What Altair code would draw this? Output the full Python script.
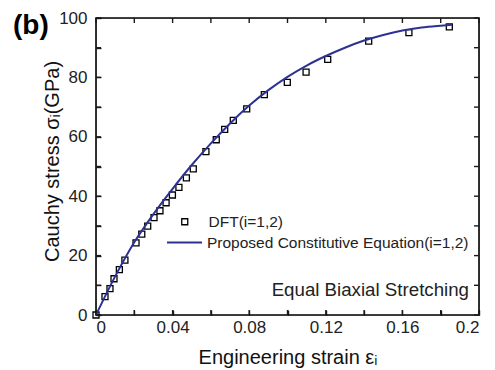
import altair as alt
import pandas as pd

# ---- data ----
dft_strain = [0.0, 0.0047, 0.0073, 0.0094, 0.0122, 0.0151, 0.0209, 0.0239, 0.0270, 0.0303,
              0.0334, 0.0366, 0.0399, 0.0433, 0.0472, 0.0508, 0.0574, 0.0628, 0.0672, 0.0717,
              0.0787, 0.0879, 0.0999, 0.1097, 0.1210, 0.1424, 0.1634, 0.1845]
dft_stress = [0.0, 6.2, 8.9, 12.2, 15.3, 18.5, 24.3, 27.2, 29.9, 32.8,
              35.1, 37.8, 40.4, 43.0, 46.2, 49.2, 55.0, 59.0, 62.5, 65.5,
              69.4, 74.2, 78.3, 81.8, 86.1, 92.2, 95.1, 97.0]

fit_strain = [0.0, 0.01, 0.02, 0.03, 0.04, 0.05, 0.06, 0.07, 0.08, 0.09, 0.10,
              0.11, 0.12, 0.13, 0.14, 0.15, 0.16, 0.17, 0.18, 0.186]
fit_stress = [0.0, 13.0, 24.5, 34.0, 42.5, 50.5, 57.8, 64.5, 70.5, 75.7, 80.2,
              84.0, 87.2, 90.0, 92.4, 94.3, 95.8, 96.8, 97.4, 97.7]

series_dft = "DFT(i=1,2)"
series_fit = "Proposed Constitutive Equation(i=1,2)"
x_tick_values = [0, 0.02, 0.04, 0.06, 0.08, 0.1, 0.12, 0.14, 0.16, 0.18, 0.2]
y_tick_values = [0, 10, 20, 30, 40, 50, 60, 70, 80, 90, 100]
annotation = "Equal Biaxial Stretching"
panel_label = "(b)"
x_title = "Engineering strain εᵢ"
y_title = "Cauchy stress σᵢ(GPa)"

dft = pd.DataFrame({"strain": dft_strain, "stress": dft_stress, "series": series_dft})
fit = pd.DataFrame({"strain": fit_strain, "stress": fit_stress, "series": series_fit})
xt = pd.DataFrame({"tx": x_tick_values})
yt = pd.DataFrame({"ty": y_tick_values})

W, H = 383, 297
TICK = 5
FONT = "Liberation Sans"
LINE_COLOR = "#2e3192"
TICK_COLOR = "#1a1a1a"

xs = alt.Scale(domain=[0, 0.2], nice=False)
ys = alt.Scale(domain=[0, 100], nice=False)

# Axes shifted inward by the tick length so that their ticks point into the plot
x_axis = alt.Axis(
    orient="bottom", offset=-TICK, values=x_tick_values, format="~g",
    labelExpr="round(datum.value * 100) % 4 == 0 ? datum.label : ''",
    ticks=True, tickSize=TICK, tickWidth=1.4, tickColor=TICK_COLOR, domain=False,
    grid=False, labelPadding=4, labelFontSize=17, labelFont=FONT, labelColor="#222",
    title=x_title, titleFont=FONT, titleFontSize=20, titleFontWeight="normal",
    titleColor="#111", titleX=W / 2, titleY=48 + TICK, titleBaseline="alphabetic")
y_axis = alt.Axis(
    orient="left", offset=-TICK, values=y_tick_values,
    labelExpr="datum.value % 20 == 0 ? datum.label : ''",
    ticks=True, tickSize=TICK, tickWidth=1.4, tickColor=TICK_COLOR, domain=False,
    grid=False, labelPadding=9, labelFontSize=17, labelFont=FONT, labelColor="#222",
    title=y_title, titleFont=FONT, titleFontSize=20, titleFontWeight="normal",
    titleColor="#111", titleX=-34 - TICK, titleY=143, titleBaseline="bottom")

# plot frame
frame = alt.Chart(pd.DataFrame({"f": [0]})).mark_rect(
    fillOpacity=0, stroke="black", strokeWidth=1.6
).encode(x=alt.value(0), x2=alt.value(W), y=alt.value(0), y2=alt.value(H))

points = alt.Chart(dft).mark_point(shape="square", filled=False, size=36,
                                   strokeWidth=1.3, opacity=1).encode(
    x=alt.X("strain:Q", scale=xs, axis=x_axis),
    y=alt.Y("stress:Q", scale=ys, axis=y_axis),
    color=alt.Color("series:N", scale=alt.Scale(domain=[series_dft], range=["black"]),
                    legend=alt.Legend(orient="none", legendX=81, legendY=196, title=None,
                                      symbolType="square", symbolSize=36,
                                      symbolStrokeWidth=1.3, symbolFillColor="transparent",
                                      labelFont=FONT, labelFontSize=15.5, labelColor="#222",
                                      labelOffset=16, labelLimit=400, padding=0)),
)

line = alt.Chart(fit).mark_line(strokeWidth=2, interpolate="monotone").encode(
    x=alt.X("strain:Q", scale=xs, axis=None),
    y=alt.Y("stress:Q", scale=ys, axis=None),
    color=alt.Color("series:N", scale=alt.Scale(domain=[series_fit], range=[LINE_COLOR]),
                    legend=alt.Legend(orient="none", legendX=70, legendY=206, title=None,
                                      symbolType="stroke", symbolSize=1225,
                                      symbolStrokeWidth=2,
                                      labelFont=FONT, labelFontSize=15.5, labelColor="#222",
                                      labelOffset=4, labelLimit=400, padding=0)),
)

# inward ticks on the top and right edges, placed through the shared scales
tick_kw = dict(color=TICK_COLOR, thickness=1.4, size=TICK, opacity=1)
top_ticks = alt.Chart(xt).mark_tick(**tick_kw).encode(
    x=alt.X("tx:Q", scale=xs, axis=None), y=alt.value(TICK / 2))
right_ticks = alt.Chart(yt).mark_tick(**tick_kw).encode(
    y=alt.Y("ty:Q", scale=ys, axis=None), x=alt.value(W - TICK / 2))
bottom_ticks = alt.Chart(xt).mark_tick(**tick_kw).encode(
    x=alt.X("tx:Q", scale=xs, axis=None), y=alt.value(H - TICK / 2))
left_ticks = alt.Chart(yt).mark_tick(**tick_kw).encode(
    y=alt.Y("ty:Q", scale=ys, axis=None), x=alt.value(TICK / 2))

note = alt.Chart(pd.DataFrame({"t": [annotation]})).mark_text(
    align="right", baseline="alphabetic", font=FONT, fontSize=18.7, color="#222"
).encode(text="t:N", x=alt.value(W - 10), y=alt.value(278))

tag = alt.Chart(pd.DataFrame({"t": [panel_label]})).mark_text(
    align="left", baseline="alphabetic", font=FONT, fontSize=28, fontWeight="bold",
    color="black"
).encode(text="t:N", x=alt.value(-83), y=alt.value(16))

chart = alt.layer(frame, points, line, top_ticks, right_ticks, bottom_ticks, left_ticks,
                  note, tag).resolve_scale(
    color="independent"
).resolve_axis(
    x="independent", y="independent"
).resolve_legend(
    color="independent"
).properties(
    width=W, height=H,
    autosize=alt.AutoSizeParams(type="none"),
    padding={"left": 88, "top": 10, "right": 8, "bottom": 55},
).configure_view(stroke="black", strokeWidth=1.6).configure(background="white")

chart.save("out.html", embed_options={"renderer": "svg", "actions": False})
